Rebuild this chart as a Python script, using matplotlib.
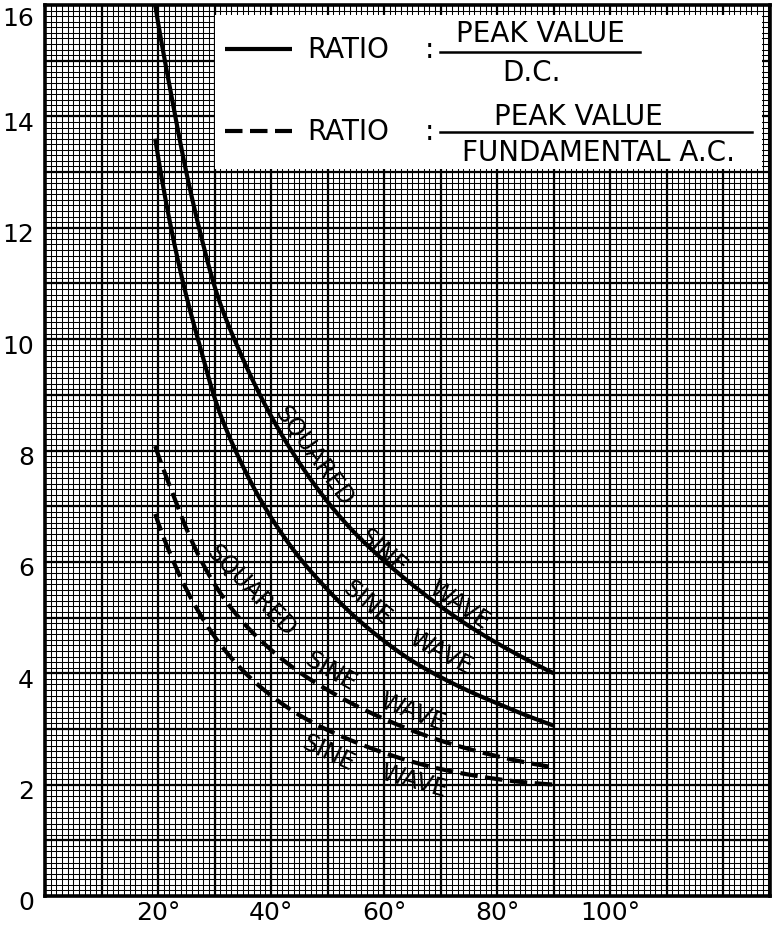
import numpy as np
import matplotlib
matplotlib.use("Agg")
import matplotlib.pyplot as plt
import matplotlib.transforms as mtransforms
from matplotlib.patches import Rectangle
from matplotlib.lines import Line2D

# ---- data -------------------------------------------------------------
angle_deg = [19.5, 22.5, 25, 27.5, 30, 35, 40, 45, 50, 55, 60, 65, 70, 75, 80, 85, 90]

# peak value / D.C.
peak_dc_squared = [16.0, 14.3, 13.0, 11.9, 10.95, 9.65, 8.62, 7.78, 7.08, 6.5, 6.02,
                   5.59, 5.2, 4.85, 4.54, 4.26, 4.0]
peak_dc_sine = [13.6, 11.9, 10.78, 9.84, 8.95, 7.72, 6.8, 6.08, 5.5, 5.0, 4.58,
                4.22, 3.93, 3.68, 3.46, 3.25, 3.06]

# peak value / fundamental A.C.
peak_fund_squared = [8.08, 7.25, 6.6, 6.05, 5.6, 4.92, 4.42, 4.02, 3.7, 3.42, 3.18,
                     2.97, 2.79, 2.64, 2.51, 2.4, 2.31]
peak_fund_sine = [6.86, 6.06, 5.51, 5.05, 4.66, 4.05, 3.6, 3.25, 2.98, 2.76, 2.57,
                  2.41, 2.28, 2.18, 2.1, 2.04, 2.0]

x_tick_values = [20, 40, 60, 80, 100]
x_tick_labels = ["20°", "40°", "60°", "80°", "100°"]
y_tick_values = [0, 2, 4, 6, 8, 10, 12, 14, 16]
y_tick_labels = ["0", "2", "4", "6", "8", "10", "12", "14", "16"]

X_MAX = 128.3
Y_MAX = 16.0

# ---- figure -----------------------------------------------------------
fig = plt.figure(figsize=(7.73, 9.29), dpi=100)
fig.patch.set_facecolor("white")
ax = fig.add_axes([45 / 773, 32 / 929, 725 / 773, 891 / 929])
ax.set_xlim(0, X_MAX)
ax.set_ylim(0, Y_MAX)

FONT = "DejaVu Sans"

# graph-paper grid: fine lines every 1 deg / 0.1, heavy every 10 deg / 1
fine_x = np.arange(1, X_MAX, 1.0)
fine_y = np.arange(0.1, Y_MAX, 0.1)
ax.vlines(fine_x, 0, Y_MAX, colors="black", linewidth=0.75, zorder=1)
ax.hlines(fine_y, 0, X_MAX, colors="black", linewidth=0.75, zorder=1)
heavy_x = np.arange(10, X_MAX, 10.0)
heavy_y = np.arange(1, Y_MAX, 1.0)
ax.vlines(heavy_x, 0, Y_MAX, colors="black", linewidth=1.6, zorder=1)
ax.hlines(heavy_y, 0, X_MAX, colors="black", linewidth=1.6, zorder=1)

for s in ax.spines.values():
    s.set_linewidth(2.6)
    s.set_color("black")
    s.set_zorder(6)

ax.set_xticks(x_tick_values)
ax.set_xticklabels(x_tick_labels, fontsize=18, family=FONT)
ax.set_yticks(y_tick_values)
ax.set_yticklabels(y_tick_labels, fontsize=18, family=FONT)
ax.tick_params(axis="y", length=0, pad=8)
ax.tick_params(axis="x", length=0, pad=3)

# numbers on the vertical scale sit a little below their lines
for lbl in ax.get_yticklabels():
    dy_px = -10 if lbl.get_text() == "16" else -4
    lbl.set_transform(lbl.get_transform() +
                      mtransforms.ScaledTranslation(0, dy_px / 100, fig.dpi_scale_trans))


def smooth(xs, ys, n=500):
    # cubic Hermite interpolation through the read points, done in log-log space
    lx = np.log(np.asarray(xs, float))
    ly = np.log(np.asarray(ys, float))
    h = np.diff(lx)
    d = np.diff(ly) / h
    m = np.empty_like(lx)
    m[1:-1] = (d[:-1] * h[1:] + d[1:] * h[:-1]) / (h[:-1] + h[1:])
    m[0], m[-1] = d[0], d[-1]
    xf = np.linspace(lx[0], lx[-1], n)
    i = np.clip(np.searchsorted(lx, xf) - 1, 0, len(h) - 1)
    t = (xf - lx[i]) / h[i]
    h00 = 2 * t**3 - 3 * t**2 + 1
    h10 = t**3 - 2 * t**2 + t
    h01 = -2 * t**3 + 3 * t**2
    h11 = t**3 - t**2
    yf = h00 * ly[i] + h10 * h[i] * m[i] + h01 * ly[i + 1] + h11 * h[i] * m[i + 1]
    return np.exp(xf), np.exp(yf)


LW = 3.0
curves = [
    (peak_dc_squared, "-"),
    (peak_dc_sine, "-"),
    (peak_fund_squared, "--"),
    (peak_fund_sine, "--"),
]
for ys, style in curves:
    xf, yf = smooth(angle_deg, ys)
    line, = ax.plot(xf, yf, color="black", linewidth=LW, linestyle=style,
                    solid_capstyle="butt", zorder=4, clip_on=True)
    if style == "--":
        line.set_dashes((4.2, 1.8))


def curve_angle(ys, x0):
    xf, yf = smooth(angle_deg, ys)
    xa, xb = x0 - 1.5, x0 + 1.5
    pa = ax.transData.transform((xa, np.interp(xa, xf, yf)))
    pb = ax.transData.transform((xb, np.interp(xb, xf, yf)))
    return np.degrees(np.arctan2(pb[1] - pa[1], pb[0] - pa[0]))


# lettering along the curves: (text, curve, x, y)
curve_labels = [
    ("SQUARED", peak_dc_squared, 47.6, 7.92),
    ("SINE", peak_dc_squared, 59.8, 6.20),
    ("WAVE", peak_dc_squared, 73.3, 5.24),
    ("SINE", peak_dc_sine, 57.0, 5.28),
    ("WAVE", peak_dc_sine, 69.9, 4.38),
    ("SQUARED", peak_fund_squared, 36.5, 5.50),
    ("SINE", peak_fund_squared, 50.6, 4.04),
    ("WAVE", peak_fund_squared, 65.1, 3.32),
    ("SINE", peak_fund_sine, 50.1, 2.58),
    ("WAVE", peak_fund_sine, 65.3, 2.08),
]
for text, ys, x0, y0 in curve_labels:
    rot = curve_angle(ys, x0)
    ax.text(x0, y0, text, fontsize=17, family=FONT, rotation=rot,
            rotation_mode="anchor", ha="center", va="center",
            color="black", zorder=5)

# ---- key box ------------------------------------------------------------
T = ax.transAxes
ax.add_patch(Rectangle((0.2345, 0.816), 0.7545, 0.1725, transform=T,
                       facecolor="white", edgecolor="none", zorder=7))

ax.add_line(Line2D([0.2483, 0.3407], [0.9506, 0.9506], transform=T,
                   color="black", linewidth=LW, solid_capstyle="butt", zorder=8))
dash_key = Line2D([0.2483, 0.3407], [0.8586, 0.8586], transform=T,
                  color="black", linewidth=LW, linestyle="--", zorder=8)
dash_key.set_dashes((4.2, 1.8))
ax.add_line(dash_key)

key_fs = 20
for ky in (0.9506, 0.8586):
    ax.text(0.362, ky, "RATIO", transform=T, fontsize=key_fs, family=FONT,
            ha="left", va="center", zorder=8)
    ax.text(0.530, ky, ":", transform=T, fontsize=key_fs, family=FONT,
            ha="center", va="center", zorder=8)

ax.text(0.6828, 0.9690, "PEAK VALUE", transform=T, fontsize=key_fs, family=FONT,
        ha="center", va="center", zorder=8)
ax.add_line(Line2D([0.5448, 0.8207], [0.9473, 0.9473], transform=T,
                   color="black", linewidth=1.8, zorder=8))
ax.text(0.6717, 0.9245, "D.C.", transform=T, fontsize=key_fs, family=FONT,
        ha="center", va="center", zorder=8)

ax.text(0.7352, 0.8750, "PEAK VALUE", transform=T, fontsize=key_fs, family=FONT,
        ha="center", va="center", zorder=8)
ax.add_line(Line2D([0.5448, 0.9752], [0.8575, 0.8575], transform=T,
                   color="black", linewidth=1.8, zorder=8))
ax.text(0.7628, 0.8350, "FUNDAMENTAL A.C.", transform=T, fontsize=key_fs,
        family=FONT, ha="center", va="center", zorder=8)

fig.savefig("out.png", dpi=100, facecolor="white")
